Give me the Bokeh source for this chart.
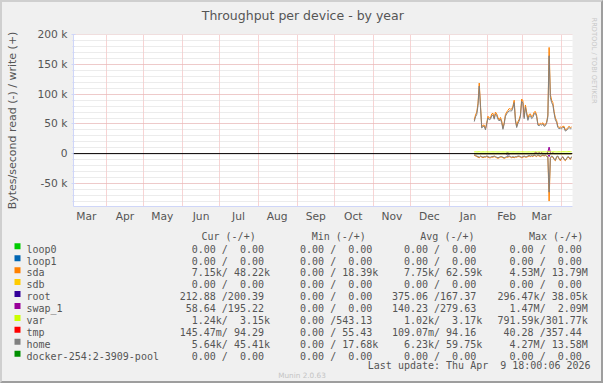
import pandas as pd
from bokeh.plotting import figure
from bokeh.layouts import column
from bokeh.models import (FixedTicker, DatetimeTickFormatter, Span, ColumnDataSource,
                          Range1d, Title)
from bokeh.core.properties import value
from bokeh.embed import file_html
from bokeh.resources import INLINE

# ---------------- data (values in k bytes/second) ----------------
first_day = "2026-01-21"
range_start = "2025-03-05 18:00"
range_end = "2026-04-09 18:00"

sda_write = [57, 65, 70, 85, 119, 82, 45, 48, 48, 42,
             52, 63, 60, 60, 67, 68, 60, 70, 67, 61,
             57, 61, 55, 43, 52, 66, 70, 73, 76, 75,
             75, 80, 90, 58, 46, 54, 58, 65, 92, 89,
             62, 82, 70, 59, 66, 67, 62, 64, 70, 71,
             65, 50, 49, 51, 50, 52, 48, 49, 53, 65,
             179, 100, 90, 86, 71, 60, 56, 46, 44, 45,
             44, 46, 46, 40, 41, 44, 46, 44, 45]
sda_read = [3, 4, 5, 6, 7, 5, 6, 7, 6, 6,
            5, 6, 7, 7, 6, 6, 5, 6, 7, 8,
            7, 6, 6, 7, 8, 7, 6, 6, 5, 6,
            7, 6, 7, 6, 6, 5, 5, 6, 7, 6,
            5, 6, 6, 5, 4, 5, 4, 5, 3, 4,
            5, 3, 4, 5, 4, 3, 4, 3, 5, 6,
            80, 8, 5, 6, 10, 12, 6, 5, 9, 12,
            8, 6, 10, 12, 9, 6, 7, 10, 6]
home_write = [54, 62, 66, 81, 114, 78, 43, 46, 46, 40,
              50, 60, 57, 58, 64, 65, 58, 67, 64, 58,
              55, 58, 52, 41, 50, 63, 67, 70, 72, 72,
              72, 77, 86, 55, 44, 51, 55, 62, 88, 85,
              59, 78, 67, 56, 63, 64, 59, 61, 67, 68,
              62, 48, 47, 49, 48, 50, 46, 47, 51, 62,
              165, 95, 86, 82, 68, 57, 53, 44, 42, 43,
              42, 44, 44, 38, 39, 42, 44, 42, 43]
home_read = [2, 3, 4, 5, 6, 4, 5, 6, 5, 5,
             4, 5, 6, 6, 5, 5, 4, 5, 6, 7,
             6, 5, 5, 6, 7, 6, 5, 5, 4, 5,
             6, 5, 6, 5, 5, 4, 4, 5, 6, 5,
             4, 5, 5, 4, 3, 4, 3, 4, 2, 3,
             4, 2, 3, 4, 3, 2, 3, 2, 4, 5,
             65, 7, 4, 5, 9, 11, 5, 4, 8, 11,
             7, 5, 9, 11, 8, 5, 6, 9, 5]
var_write = [2.9, 3.0, 2.8, 2.9, 3.1, 2.8, 2.7, 2.9, 2.8, 2.8,
             2.9, 2.8, 2.7, 2.8, 2.9, 2.8, 2.8, 2.9, 2.8, 2.7,
             2.8, 2.9, 2.8, 2.8, 2.7, 2.8, 2.9, 2.8, 2.8, 2.9,
             2.8, 2.8, 2.9, 2.8, 2.7, 2.8, 2.8, 2.9, 3.0, 2.9,
             2.8, 2.9, 2.8, 2.8, 2.9, 2.8, 2.8, 2.9, 2.8, 2.9,
             2.8, 2.8, 2.9, 2.8, 2.8, 2.9, 2.8, 2.9, 2.9, 3.0,
             3.2, 3.0, 2.9, 2.9, 3.0, 2.9, 2.8, 2.9, 3.0, 2.9,
             3.0, 3.1, 3.0, 3.1, 3.0, 3.1, 3.2, 3.1, 3.15]
var_read = [0.4, 0.4, 0.4, 0.4, 0.5, 0.4, 0.3, 0.4, 0.4, 0.4,
            0.4, 0.4, 0.3, 0.4, 0.4, 0.4, 0.4, 0.4, 0.4, 0.3,
            0.4, 0.4, 0.4, 0.4, 0.3, 0.4, 0.4, 0.4, 0.4, 0.4,
            0.4, 0.4, 0.4, 0.4, 0.3, 0.4, 0.4, 0.4, 0.5, 0.4,
            0.4, 0.4, 0.4, 0.4, 0.4, 0.4, 0.4, 0.4, 0.4, 0.4,
            0.4, 0.4, 0.4, 0.4, 0.4, 0.4, 0.4, 0.4, 0.5, 0.5,
            0.6, 0.5, 0.4, 0.4, 0.5, 0.4, 0.4, 0.4, 0.5, 0.4,
            0.5, 0.5, 0.5, 0.5, 0.5, 0.5, 0.5, 0.5, 0.5]
swap_write = [0, 0, 0, 0, 0, 0, 0, 0, 0, 0,
              0, 0, 0, 0, 0, 0, 0, 0, 0, 0,
              0, 0, 0, 0, 0, 0, 0, 0, 0, 0,
              0, 0, 0, 0, 0, 0, 0, 0, 0, 0,
              0, 0, 0, 0, 0, 0, 0, 0, 0, 2.5,
              1.5, 0, 2.0, 0, 2.0, 0, 0, 0, 0, 3.0,
              11.0, 2.0, 0, 1.5, 0, 0, 0, 0, 0, 0,
              0, 0, 0, 0, 0, 0, 0, 0, 0]
swap_read = [0, 0, 0, 0, 0, 0, 0, 0, 0, 0,
             0, 0, 0, 0, 0, 0, 0, 0, 0, 0,
             0, 0, 0, 0, 0, 0, 0, 0, 0, 0,
             0, 0, 0, 0, 0, 0, 0, 0, 0, 0,
             0, 0, 0, 0, 0, 0, 0, 0, 0, 0,
             0, 0, 0, 0, 0, 0, 0, 0, 0, 1.0,
             5.0, 0, 0, 0, 0, 0, 0, 0, 0, 0,
             0, 0, 0, 0, 0, 0, 0, 0, 0]
root_write = [0, 0, 0, 0, 0, 0, 0, 0, 0, 0,
              0, 0, 0, 0, 0, 0, 0, 0, 0, 0,
              0, 0, 0, 0, 0, 0, 0.8, 1.2, 0, 0,
              0, 0, 0, 0, 0, 0, 0, 0, 0, 0,
              0, 0, 0, 0, 0, 0, 0, 0, 0, 0,
              0, 0, 0, 0, 0, 0, 0, 0, 0, 0,
              0, 0, 0, 0, 0, 0, 0, 0, 0, 0,
              0, 0, 0, 0, 0, 0, 0, 0, 0]
root_read = [0, 0, 0, 0, 0, 0, 0, 0, 0, 0,
             0, 0, 0, 0, 0, 0, 0, 0, 0, 0,
             0, 0, 0, 0, 0, 0, 1.5, 2.5, 1.0, 0,
             0, 0, 0, 0, 0, 0, 0, 0, 0, 0,
             0, 0, 0, 0, 0, 0, 0, 0, 0, 0,
             0, 0, 0, 0, 0, 0, 0, 0, 0, 0,
             0, 0, 0, 0, 0, 0, 0, 0, 0, 0,
             0, 0, 0, 0, 0, 0, 0, 0, 0]

y_ticks = [-50, 0, 50, 100, 150, 200]
y_tick_labels = ["-50 k", "0", "50 k", "100 k", "150 k", "200 k"]
y_minor_ticks = list(range(-80, 201, 10))
y_bottom, y_top = -90, 200

legend_names = ["loop0", "loop1", "sda", "sdb", "root", "swap_1", "var", "tmp", "home",
                "docker-254:2-3909-pool"]
legend_colors = ["#00CC00", "#0066B3", "#FF8000", "#FFCC00", "#330099", "#990099",
                 "#CCFF00", "#FF0000", "#808080", "#008F00"]
legend_cur = ["  0.00 /  0.00 ", "  0.00 /  0.00 ", "  7.15k/ 48.22k", "  0.00 /  0.00 ",
              "212.88 /200.39 ", " 58.64 /195.22 ", "  1.24k/  3.15k", "145.47m/ 94.29 ",
              "  5.64k/ 45.41k", "  0.00 /  0.00 "]
legend_min = ["  0.00 /  0.00 ", "  0.00 /  0.00 ", "  0.00 / 18.39k", "  0.00 /  0.00 ",
              "  0.00 /  0.00 ", "  0.00 /  0.00 ", "  0.00 /543.13 ", "  0.00 / 55.43 ",
              "  0.00 / 17.68k", "  0.00 /  0.00 "]
legend_avg = ["  0.00 /  0.00 ", "  0.00 /  0.00 ", "  7.75k/ 62.59k", "  0.00 /  0.00 ",
              "375.06 /167.37 ", "140.23 /279.63 ", "  1.02k/  3.17k", "109.07m/ 94.16 ",
              "  6.23k/ 59.75k", "  0.00 /  0.00 "]
legend_max = ["  0.00 /  0.00 ", "  0.00 /  0.00 ", "  4.53M/ 13.79M", "  0.00 /  0.00 ",
              "296.47k/ 38.05k", "  1.47M/  2.09M", "791.59k/301.77k", " 40.28 /357.44 ",
              "  4.27M/ 13.58M", "  0.00 /  0.00 "]
column_heads = ["Cur (-/+)", "Min (-/+)", "Avg (-/+)", "Max (-/+)"]
title_text = "Throughput per device - by year"
y_label_text = "Bytes/second read (-) / write (+)"
last_update = "Last update: Thu Apr  9 18:00:06 2026"
watermark = "Munin 2.0.63"
side_mark = "RRDTOOL / TOBI OETIKER"

# ---------------- styling ----------------
W, H = 603, 383          # whole picture
B = 2                    # 3D border width (CSS)
IW, IH = W - 2 * B, H - 2 * B
SPLIT = 225              # canvas y where the legend part starts
FL, FR, FT, FB = 72, 572, 34, 208   # plot frame in canvas pixels
BACK, CANVAS, FONT = "#F0F0F0", "#FFFFFF", "#555555"
AXIS = "#CFD6F8"
MGRID, GRID = "#F0A8A8", "#D8D8D8"
SHADEA, SHADEB = "#CFCFCF", "#9E9E9E"
SANS, MONO = "DejaVu Sans", "DejaVu Sans Mono"


def ms(ts):
    return pd.Timestamp(ts).value // 10**6


def keep_spaces(strings):
    # SVG collapses ordinary spaces; no-break spaces keep the monospace columns
    return [s.replace(" ", "\u00a0") for s in strings]


def spacer(pad):
    # blank panel item used only to push a title away from the frame
    return Title(text=" ", text_font_size="1px", standoff=pad, text_color=BACK)


n = len(sda_write)
dates = pd.date_range(first_day, periods=n, freq="D")
src = ColumnDataSource(dict(
    date=dates,
    sda_w=sda_write, sda_r=[-v for v in sda_read],
    home_w=home_write, home_r=[-v for v in home_read],
    var_w=var_write, var_r=[-v for v in var_read],
    swap_w=swap_write, swap_r=[-v for v in swap_read],
    root_w=root_write, root_r=[-v for v in root_read],
))

# half-pixel shift of the value range so that 1px horizontal rules land on pixel centres
per_px = (y_top - y_bottom) / (FB - FT)
half = 0.5 * per_px

top_h = SPLIT - B
p = figure(width=IW, height=top_h, x_axis_type="datetime", output_backend="svg",
           toolbar_location=None, frame_align=False,
           x_range=Range1d(ms(range_start), ms(range_end)),
           y_range=Range1d(y_bottom + half, y_top + half),
           min_border_left=FL - B, min_border_right=(W - B) - FR, min_border_top=FT - B,
           min_border_bottom=SPLIT - FB)
p.background_fill_color = CANVAS
p.border_fill_color = BACK
p.outline_line_color = None

# title (left-aligned with an offset so that it is centred on the picture)
p.add_layout(spacer(8), "above")
p.title.text = title_text
p.title.text_font = SANS
p.title.text_font_size = "12.5px"
p.title.text_font_style = "normal"
p.title.text_color = FONT
p.title.align = "left"
p.title.offset = 200.3 - FL
p.title.standoff = 2

# side watermark
p.add_layout(spacer(14), "right")
p.add_layout(Title(text=side_mark, align="left", offset=17 - FT, text_font=SANS,
                   text_font_size="6.7px", text_font_style="normal", text_color="#C8C8C8",
                   standoff=0), "right")

# month grid and mid-month labels
month_starts = pd.date_range("2025-03-01", "2026-04-01", freq="MS")
grid_ticks = [ms(d) for d in month_starts if ms(range_start) < ms(d) < ms(range_end)]
label_ticks = [ms(d + pd.Timedelta(days=15)) for d in month_starts]
label_ticks = [t for t in label_ticks if ms(range_start) < t < ms(range_end)]

xax = p.xaxis[0]
xax.ticker = FixedTicker(ticks=label_ticks)
fmt = "%b"
xax.formatter = DatetimeTickFormatter(milliseconds=fmt, seconds=fmt, minsec=fmt, minutes=fmt,
                                      hourmin=fmt, hours=fmt, days=fmt, months=fmt, years=fmt)
xax.major_tick_in = 0
xax.major_tick_out = 0
xax.minor_tick_in = 0
xax.minor_tick_out = 0
xax.axis_line_color = AXIS
xax.major_label_text_font = SANS
xax.major_label_text_font_size = "10.7px"
xax.major_label_text_color = FONT
xax.major_label_standoff = 3

yax = p.yaxis[0]
yt = FixedTicker(ticks=y_ticks, minor_ticks=y_minor_ticks)
yax.ticker = yt
yax.major_label_overrides = {t: s for t, s in zip(y_ticks, y_tick_labels)}
yax.axis_line_color = AXIS
yax.major_tick_line_color = AXIS
yax.major_tick_in = 2
yax.major_tick_out = 2
yax.minor_tick_line_color = AXIS
yax.minor_tick_in = 1
yax.minor_tick_out = 1
yax.major_label_text_font = SANS
yax.major_label_text_font_size = "10.7px"
yax.major_label_text_color = FONT
yax.major_label_standoff = 4
yax.axis_label = y_label_text
yax.axis_label_text_font = SANS
yax.axis_label_text_font_size = "11px"
yax.axis_label_text_font_style = "normal"
yax.axis_label_text_color = FONT
yax.axis_label_standoff = 16

p.xgrid.ticker = FixedTicker(ticks=grid_ticks)
p.xgrid.grid_line_color = MGRID
p.xgrid.grid_line_dash = "1 1"
p.ygrid.ticker = yt
p.ygrid.grid_line_color = MGRID
p.ygrid.grid_line_dash = "1 1"
p.ygrid.minor_grid_line_color = GRID
p.ygrid.minor_grid_line_dash = "1 1"

# series (munin drawing order)
for col, color in [("sda_w", "#FF8000"), ("sda_r", "#FF8000"),
                   ("root_w", "#330099"), ("root_r", "#330099"),
                   ("swap_w", "#990099"), ("swap_r", "#990099"),
                   ("var_w", "#CCFF00"), ("var_r", "#CCFF00"),
                   ("home_w", "#808080"), ("home_r", "#808080")]:
    p.line(x="date", y=col, source=src, line_color=color, line_width=1)

p.add_layout(Span(location=0, dimension="width", line_color="#000000", line_width=1))

# ---------------- legend part (ranges in canvas pixels) ----------------
q = figure(frame_width=IW, frame_height=IH - top_h, output_backend="svg",
           toolbar_location=None, frame_align=False,
           x_range=Range1d(B, W - B), y_range=Range1d(H - B, SPLIT),
           x_axis_location=None, y_axis_location=None, min_border=0)
q.grid.visible = False
q.outline_line_color = None
q.background_fill_color = BACK
q.border_fill_color = BACK

col_x = [179.2, 287.5, 391.4, 497.0]
head_x = [201.0, 311.2, 419.8, 528.5]
row_c = [245.8 + 11.93 * i for i in range(len(legend_names))]
row_base = [c + 2.8 for c in row_c]

q.text(x=head_x, y=[235.5] * 4, text=keep_spaces(column_heads), text_font=value(MONO),
       text_font_size="10px", text_color=FONT, text_baseline="alphabetic")
q.rect(x=[17] * len(row_c), y=row_c, width=6, height=6, fill_color=legend_colors,
       line_color=None)
q.text(x=[26] * len(row_c), y=row_base, text=legend_names,
       text_font=value(MONO), text_font_size="10px", text_color=FONT,
       text_baseline="alphabetic")
for cx, vals in zip(col_x, [legend_cur, legend_min, legend_avg, legend_max]):
    q.text(x=[cx] * len(row_c), y=row_base, text=keep_spaces(vals),
           text_font=value(MONO), text_font_size="10px", text_color=FONT,
           text_baseline="alphabetic")
q.text(x=[367.3], y=[365], text=keep_spaces([last_update]), text_font=value(MONO),
       text_font_size="10px", text_color=FONT, text_baseline="alphabetic")
q.text(x=[301.5], y=[374.5], text=[watermark], text_font=value(SANS),
       text_font_size="7.3px", text_color="#C4C4C4", text_align="center",
       text_baseline="alphabetic")

layout = column(p, q, spacing=0, styles={
    "border-style": "solid", "border-width": f"{B}px",
    "border-color": f"{SHADEA} {SHADEB} {SHADEB} {SHADEA}",
    "background-color": BACK})

open("out.html", "w").write(file_html(layout, INLINE))
